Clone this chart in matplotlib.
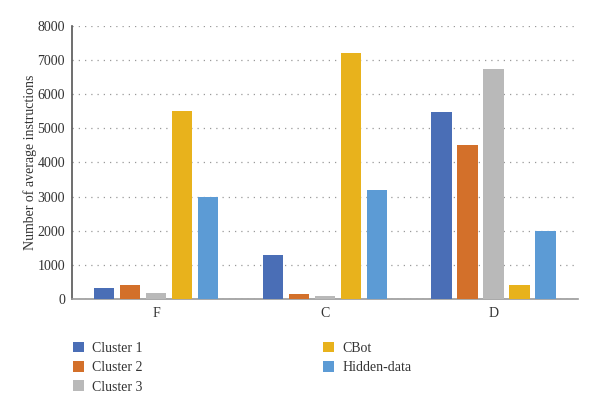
#!/usr/bin/env python3
"""Average instructions per group, grouped bar chart."""

import matplotlib
matplotlib.use('Agg')
import matplotlib.pyplot as plt
import numpy as np

# Data
groups = ['F', 'C', 'D']
series = ['Cluster 1', 'Cluster 2', 'Cluster 3', 'CBot', 'Hidden-data']
cluster1 = [320, 1300, 5480]
cluster2 = [420, 150, 4500]
cluster3 = [180, 80, 6750]
cbot = [5500, 7200, 400]
hidden = [3000, 3200, 2000]
values = [cluster1, cluster2, cluster3, cbot, hidden]
colors = ['#4A6EB6', '#D3702A', '#B9B9B9', '#E8B21C', '#5C9BD5']

plt.rcParams['font.family'] = ['Liberation Serif', 'DejaVu Serif']
plt.rcParams['font.size'] = 10

fig = plt.figure(figsize=(6, 3.99), dpi=100)
ax = fig.add_axes([0.12, 0.251, 0.843, 0.684])

x = np.arange(len(groups))
pitch = 0.154
width = 0.12
for i, (name, vals, c) in enumerate(zip(series, values, colors)):
    ax.bar(x + (i - 2) * pitch, vals, width, color=c, label=name, zorder=3)

ax.set_xlim(-0.5, 2.5)
ax.set_ylim(0, 8000)
ax.set_yticks(np.arange(0, 8001, 1000))
ax.set_xticks(x)
ax.set_xticklabels(groups)
ax.tick_params(length=0, colors='#333333', labelsize=10)
ax.tick_params(axis='y', pad=5)
ax.tick_params(axis='x', pad=6)
ax.set_ylabel('Number of average instructions', color='#333333', labelpad=0)

ax.grid(axis='y', linestyle=(0, (1, 4)), color='#999999', linewidth=0.9, zorder=0)
for s in ['top', 'right']:
    ax.spines[s].set_visible(False)
ax.spines['left'].set_color('#555555')
ax.spines['left'].set_linewidth(1.2)
ax.spines['bottom'].set_color('#999999')
ax.spines['bottom'].set_linewidth(1.2)

fig.legend(loc='upper left', bbox_to_anchor=(0.1, 0.175), ncol=2,
           frameon=False, handlelength=0.8, handleheight=0.8,
           columnspacing=13.0, labelspacing=0.45, handletextpad=0.6,
           fontsize=10, labelcolor='#333333')

plt.savefig('out.png', dpi=100)
print("Saved: out.png")
